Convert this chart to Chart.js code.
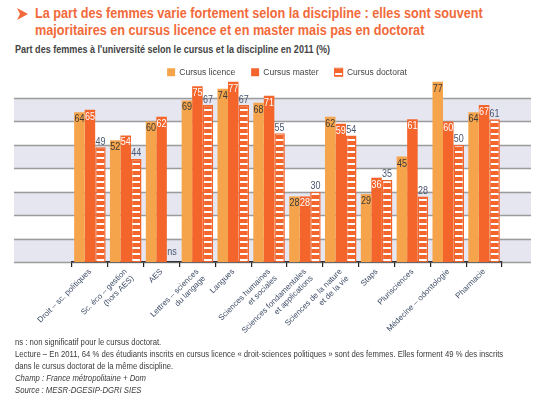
<!DOCTYPE html>
<html lang="fr">
<head>
<meta charset="utf-8">
<script src="https://cdn.jsdelivr.net/npm/chart.js@4.4.1/dist/chart.umd.min.js"></script>
<style>
  body { margin: 0; width: 547px; height: 399px; background: #fff; position: relative; overflow: hidden;
         font-family: "Liberation Sans", Arial, sans-serif; }
  .fleche { position: absolute; left: 17px; top: 8px; }
  .titre, .sous-titre, .notes { position: absolute; white-space: nowrap; transform-origin: left top; }
  .titre { left: 35px; top: 5px; color: #F26A3A; font-weight: bold; font-size: 14px; line-height: 17px; }
  .sous-titre { left: 15px; top: 44px; color: #444; font-weight: bold; font-size: 10px; }
  #zone { position: absolute; left: 0; top: 52px; }
  .notes { left: 15px; top: 336px; color: #3a3a3a; font-size: 9.5px; line-height: 12px; }
</style>
</head>
<body>
<svg class="fleche" width="11" height="12" viewBox="0 0 11 12"><polygon points="0,0 11,6 0,12 3,6" fill="#F26A3A"/></svg>
<div class="titre" id="titre">La part des femmes varie fortement selon la discipline : elles sont souvent<br>majoritaires en cursus licence et en master mais pas en doctorat</div>
<div class="sous-titre" id="soustitre">Part des femmes à l'université selon le cursus et la discipline en 2011 (%)</div>
<div id="zone"><canvas id="myChart" width="547" height="288"></canvas></div>
<div class="notes" id="notes">
  ns : non significatif pour le cursus doctorat.<br>
  Lecture – En 2011, 64 % des étudiants inscrits en cursus licence « droit-sciences politiques » sont des femmes. Elles forment 49 % des inscrits<br>
  dans le cursus doctorat de la même discipline.<br>
  <i>Champ : France métropolitaine + Dom</i><br>
  <i>Source : MESR-DGESIP-DGRI SIES</i>
</div>
<script>
// données
const categories = [
  'Droit – sc. politiques',
  ['Sc. éco – gestion', '(hors AES)'],
  'AES',
  ['Lettres – sciences', 'du langage'],
  'Langues',
  ['Sciences humaines', 'et sociales'],
  ['Sciences fondamentales', 'et applications'],
  ['Sciences de la nature', 'et de la vie'],
  'Staps',
  'Plurisciences',
  'Médecine – odontologie',
  'Pharmacie'
];
const licence  = [64, 52, 60, 69, 74, 68, 28, 62, 29, 45, 77, 64];
const master   = [65, 54, 62, 75, 77, 71, 28, 59, 36, 61, 60, 67];
const doctorat = [49, 44, null, 67, 67, 55, 30, 54, 35, 28, 50, 61]; // null = ns

const POLICE = '"Liberation Sans", Arial, sans-serif';
const ORANGE_CLAIR = '#F5A44B';
const ORANGE = '#F4652C';

// textes HTML resserrés comme la police étroite de l'original
function resserrer(id, largeur) {
  const el = document.getElementById(id);
  el.style.transform = 'scaleX(' + (largeur / el.offsetWidth) + ')';
}
resserrer('titre', 448);
resserrer('soustitre', 315);
resserrer('notes', 488);

const ctx = document.getElementById('myChart').getContext('2d');

// motif rayé du cursus doctorat
function rayures() {
  const c = document.createElement('canvas');
  c.width = 6; c.height = 6;
  const g = c.getContext('2d');
  g.fillStyle = ORANGE; g.fillRect(0, 0, 6, 6);
  g.fillStyle = '#fff'; g.fillRect(0, 3, 6, 2);
  return ctx.createPattern(c, 'repeat');
}

// bandes grises et lignes de grille, prolongées à gauche et à droite
const bandes = {
  id: 'bandes',
  beforeDraw(chart) {
    const { ctx, scales: { y } } = chart;
    const x0 = 14, x1 = 531;
    const niveaux = y.ticks.map(t => t.value).filter(v => v <= 70);
    ctx.save();
    ctx.fillStyle = '#E5E6EF';
    niveaux.forEach(v => {
      if (v % 20 === 0 && v < 70) {
        const haut = y.getPixelForValue(v + 10), bas = y.getPixelForValue(v);
        ctx.fillRect(x0, haut, x1 - x0, bas - haut);
      }
    });
    ctx.strokeStyle = '#9C9C9C';
    ctx.lineWidth = 1.5;
    niveaux.forEach(v => {
      const py = Math.round(y.getPixelForValue(v)) + 0.5;
      ctx.beginPath(); ctx.moveTo(x0, py); ctx.lineTo(x1, py); ctx.stroke();
    });
    ctx.restore();
  }
};

// valeurs écrites sur les barres (chiffres étroits)
function texteEtroit(ctx, txt, x, y) {
  ctx.save();
  ctx.translate(x, y);
  ctx.scale(0.78, 1);
  ctx.fillText(txt, 0, 0);
  ctx.restore();
}

const etiquettes = {
  id: 'etiquettes',
  afterDatasetsDraw(chart) {
    const { ctx, scales: { y } } = chart;
    ctx.save();
    ctx.font = '11.5px ' + POLICE;
    ctx.textAlign = 'center';
    chart.data.datasets.forEach((ds, i) => {
      const meta = chart.getDatasetMeta(i);
      meta.data.forEach((bar, j) => {
        const v = ds.data[j];
        if (i === 0) {
          ctx.fillStyle = '#3a3a3a'; ctx.textBaseline = 'top';
          texteEtroit(ctx, v, bar.x, bar.y + 1);
        } else if (i === 1) {
          ctx.fillStyle = '#fff'; ctx.textBaseline = 'top';
          texteEtroit(ctx, v, bar.x, bar.y + 1);
        } else {
          ctx.fillStyle = '#4A5670'; ctx.textBaseline = 'bottom';
          if (v == null) texteEtroit(ctx, 'ns', bar.x, y.getPixelForValue(0) - 4);
          else texteEtroit(ctx, v, bar.x, bar.y);
        }
      });
    });
    ctx.restore();
  }
};

const myChart = new Chart(ctx, {
  type: 'bar',
  data: {
    labels: categories,
    datasets: [
      { label: 'Cursus licence', data: licence, backgroundColor: ORANGE_CLAIR, borderWidth: 0 },
      { label: 'Cursus master', data: master, backgroundColor: ORANGE, borderWidth: 0 },
      { label: 'Cursus doctorat', data: doctorat, backgroundColor: rayures(), borderColor: ORANGE,
        borderWidth: { top: 1.5, left: 1.5, right: 1.5, bottom: 0 } }
    ]
  },
  options: {
    responsive: false,
    animation: false,
    devicePixelRatio: 1,
    layout: { padding: { left: 72, right: 45, top: 0, bottom: 0 } },
    datasets: { bar: { categoryPercentage: 0.88, barPercentage: 1 } },
    scales: {
      y: { display: false, min: 0, max: 79, ticks: { stepSize: 10 } },
      x: {
        grid: { display: true, drawOnChartArea: false, drawTicks: true, tickLength: 5, color: '#222', lineWidth: 1.2, offset: true },
        border: { display: true, color: '#333', width: 1.5 },
        ticks: { autoSkip: false, minRotation: 45, maxRotation: 45, padding: 0, color: '#3E4C66', font: { family: POLICE, size: 8 } },
        afterFit(scale) { scale.height = 78; }
      }
    },
    plugins: {
      legend: {
        position: 'top',
        maxHeight: 25,
        labels: { boxWidth: 8, boxHeight: 8, padding: 16, color: '#444', font: { family: POLICE, size: 8.5 } }
      },
      tooltip: { enabled: false }
    }
  },
  plugins: [bandes, etiquettes]
});
</script>
</body>
</html>
